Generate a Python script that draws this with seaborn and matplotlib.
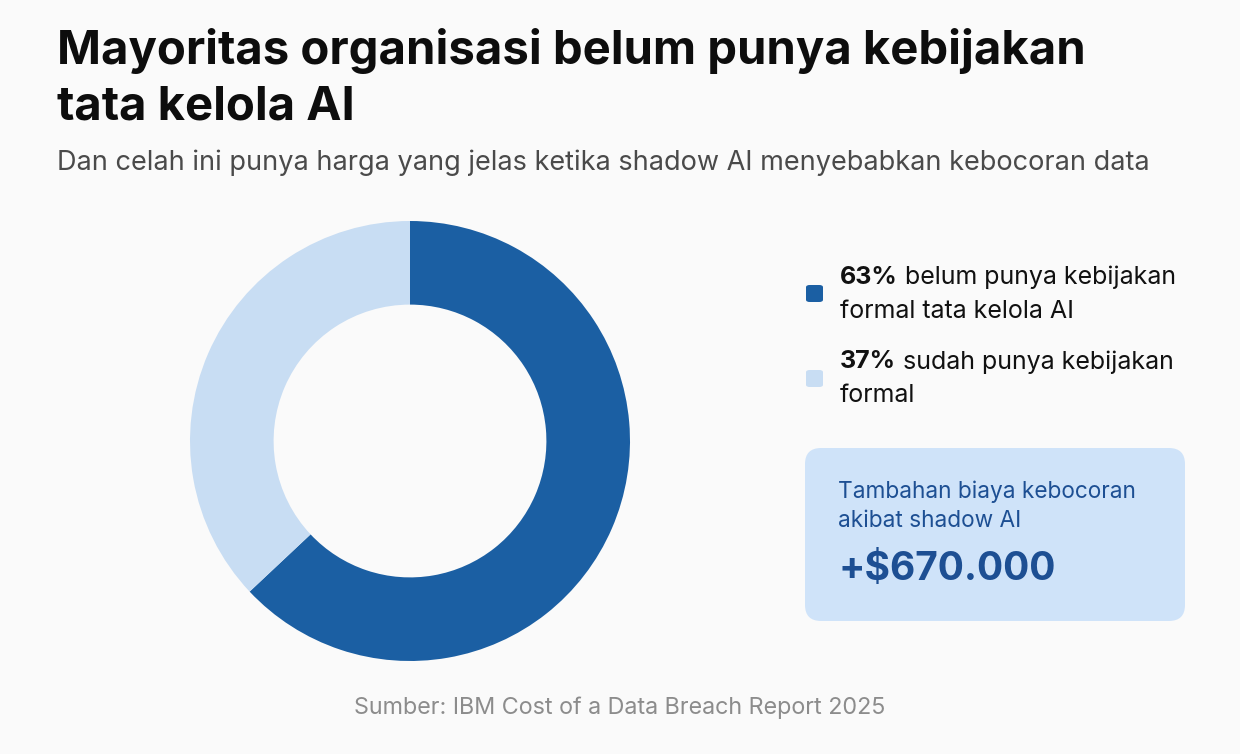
import matplotlib.pyplot as plt
import seaborn as sns
from matplotlib.patches import FancyBboxPatch

# data
labels = ['belum punya kebijakan formal tata kelola AI', 'sudah punya kebijakan formal']
shares = [63, 37]
legend_bold = ['63%', '37%']
legend_rest = [' belum punya kebijakan', ' sudah punya kebijakan']
legend_second = ['formal tata kelola AI', 'formal']
box_lines = ['Tambahan biaya kebocoran', 'akibat shadow AI']
box_value = '+$670.000'

colors = ['#1b5fa3', '#c8ddf3']
bg = '#fafafa'

sns.set_theme(style='white')
plt.rcParams['font.family'] = ['Inter', 'DejaVu Sans']

W, H = 1240, 754
fig = plt.figure(figsize=(W / 100, H / 100), dpi=100, facecolor=bg)


def fx(px):
    return px / W


def fy(py):
    return 1 - py / H


# title + subtitle
fig.text(fx(57), fy(51), 'Mayoritas organisasi belum punya kebijakan', fontsize=34,
         fontweight='bold', color='#0d0d0d', va='center', ha='left')
fig.text(fx(57), fy(108), 'tata kelola AI', fontsize=34,
         fontweight='bold', color='#0d0d0d', va='center', ha='left')
fig.text(fx(57), fy(163), 'Dan celah ini punya harga yang jelas ketika shadow AI menyebabkan kebocoran data',
         fontsize=19.5, color='#4a4a4a', va='center', ha='left')

# donut
ax = fig.add_axes([fx(190), fy(661), fx(440), 440 / H])
ax.set_facecolor(bg)
ax.pie(shares, colors=colors, startangle=90, counterclock=False,
       wedgeprops=dict(width=0.38, edgecolor='none'), radius=1)
ax.set_xlim(-1, 1)
ax.set_ylim(-1, 1)
ax.set_aspect('equal')
ax.axis('off')

# legend
for i, (b, r, s) in enumerate(zip(legend_bold, legend_rest, legend_second)):
    y1 = 277 + i * 85
    sq = FancyBboxPatch((fx(806), fy(y1 + 25)), fx(17), 17 / H,
                        boxstyle='round,pad=0,rounding_size=0.003',
                        transform=fig.transFigure, facecolor=colors[i], edgecolor='none')
    fig.patches.append(sq)
    t = fig.text(fx(840), fy(y1), b, fontsize=18, fontweight='bold', color='#111111',
                 va='center', ha='left')
    ax.annotate(r, xy=(1, 0.5), xycoords=t, fontsize=18, color='#111111',
                va='center', ha='left')
    fig.text(fx(840), fy(y1 + 34), s, fontsize=18, color='#111111', va='center', ha='left')

# info box
box = FancyBboxPatch((fx(805), fy(621)), fx(380), 173 / H,
                     boxstyle='round,pad=0,rounding_size=0.013',
                     transform=fig.transFigure, facecolor='#cfe3f9', edgecolor='none',
                     mutation_aspect=W / H)
fig.patches.append(box)
fig.text(fx(838), fy(492), box_lines[0], fontsize=16.3, color='#1d4f93', va='center', ha='left')
fig.text(fx(838), fy(521), box_lines[1], fontsize=16.3, color='#1d4f93', va='center', ha='left')
fig.text(fx(838), fy(569), box_value, fontsize=28, fontweight='bold', color='#1d4f93',
         va='center', ha='left')

# source
fig.text(0.5, fy(708), 'Sumber: IBM Cost of a Data Breach Report 2025', fontsize=16.8,
         color='#8c8c8c', va='center', ha='center')

fig.savefig('out.png', dpi=100, facecolor=bg)
